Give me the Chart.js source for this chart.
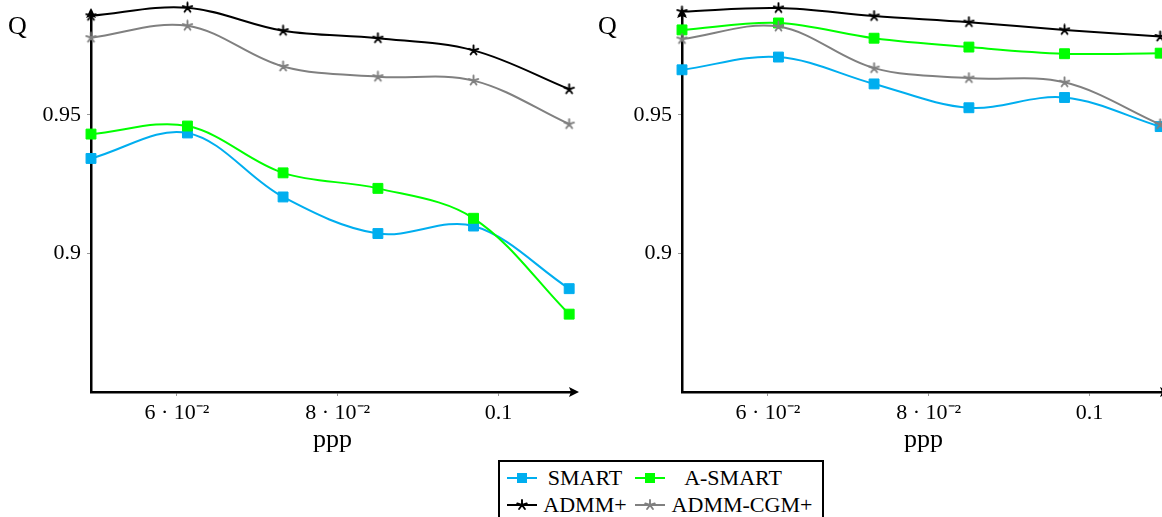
<!DOCTYPE html>
<html><head><meta charset="utf-8">
<script src="https://cdn.jsdelivr.net/npm/chart.js@4"></script>
<style>
html,body{margin:0;padding:0;width:1162px;height:517px;overflow:hidden;background:#fff;font-family:"Liberation Serif",serif;}
body{position:relative;}
#c1{position:absolute;left:0;top:0;}
#c2{position:absolute;left:591px;top:0;}
.q{position:absolute;font-size:26px;line-height:1;color:#000;}
#legend{position:absolute;left:498px;top:460px;width:322px;height:70px;border:2px solid #000;background:#fff;font-size:22px;color:#000;}
#legend svg{position:absolute;}
#legend span{position:absolute;line-height:1;white-space:nowrap;transform:translate(-50%,-50%);}
</style>
</head><body>
<canvas id="c1" width="600" height="462"></canvas>
<canvas id="c2" width="600" height="462"></canvas>
<div class="q" style="left:8px;top:13px;">Q</div>
<div class="q" style="left:598px;top:13px;">Q</div>
<div id="legend">
  <svg style="left:7px;top:9.7px" width="30" height="12"><line x1="0" y1="6" x2="30" y2="6" stroke="#00AEEF" stroke-width="2"/><rect x="10" y="1" width="10" height="10" fill="#00AEEF"/></svg>
  <span style="left:85px;top:16px">SMART</span>
  <svg style="left:135px;top:9.7px" width="30" height="12"><line x1="0" y1="6" x2="30" y2="6" stroke="#00FF00" stroke-width="2"/><rect x="10" y="1" width="10" height="10" fill="#00FF00"/></svg>
  <span style="left:233px;top:16px">A-SMART</span>
  <svg id="lgS1" style="left:7px;top:37px" width="30" height="12"></svg>
  <span style="left:85px;top:43px">ADMM+</span>
  <svg id="lgS2" style="left:135px;top:37px" width="30" height="12"></svg>
  <span style="left:242px;top:43px">ADMM-CGM+</span>
</div>
<script>
// ---- data ----
const ppp = [0.0493, 0.0613, 0.0732, 0.0850, 0.0969, 0.1088];
const xTicks = [0.06, 0.08, 0.1];
const xTickLabels = ['6 · 10⁻²', '8 · 10⁻²', '0.1'];
const yTicks = [0.9, 0.95];
const yTickLabels = ['0.9', '0.95'];
const seriesNames = ['SMART', 'A-SMART', 'ADMM+', 'ADMM-CGM+'];

const smartL  = [0.9343, 0.9435, 0.9204, 0.9072, 0.9099, 0.8873];
const asmartL = [0.9431, 0.9460, 0.9291, 0.9235, 0.9127, 0.8781];
const admmL   = [0.9858, 0.9887, 0.9804, 0.9777, 0.9733, 0.9593];
const cgmL    = [0.9779, 0.9822, 0.9675, 0.9638, 0.9624, 0.9467];

const smartR  = [0.9663, 0.9709, 0.9612, 0.9526, 0.9563, 0.9458];
const asmartR = [0.9807, 0.9832, 0.9777, 0.9745, 0.9721, 0.9723];
const admmR   = [0.9873, 0.9886, 0.9857, 0.9835, 0.9807, 0.9783];
const cgmR    = [0.9774, 0.9819, 0.9669, 0.9633, 0.9618, 0.9466];

// ---- styles ----
const BLUE = '#00AEEF', GREEN = '#00FF00', BLACK = '#000000', GRAY = '#808080';
const FONT = 'Liberation Serif';

function starPath(cx, cy, r) {
  let d = '';
  for (let i = 0; i < 5; i++) {
    const a = -Math.PI / 2 + i * 2 * Math.PI / 5;
    d += `M${cx} ${cy} L${(cx + r * Math.cos(a)).toFixed(2)} ${(cy + r * Math.sin(a)).toFixed(2)} `;
  }
  return d;
}
function makeStar(color) {
  const c = document.createElement('canvas');
  c.width = 13; c.height = 13;
  const g = c.getContext('2d');
  g.strokeStyle = color; g.lineWidth = 1.9; g.lineCap = 'round';
  g.beginPath();
  for (let i = 0; i < 5; i++) {
    const a = -Math.PI / 2 + i * 2 * Math.PI / 5;
    g.moveTo(6.5, 6.5);
    g.lineTo(6.5 + 5 * Math.cos(a), 6.5 + 5 * Math.sin(a));
  }
  g.stroke();
  return c;
}
const starBlack = makeStar(BLACK), starGray = makeStar(GRAY);

['lgS1', 'lgS2'].forEach((id, i) => {
  const col = i === 0 ? BLACK : GRAY;
  document.getElementById(id).innerHTML =
    `<line x1="0" y1="6" x2="30" y2="6" stroke="${col}" stroke-width="2"/>` +
    `<path d="${starPath(15, 6, 5)}" stroke="${col}" stroke-width="1.9" stroke-linecap="round" fill="none"/>`;
});

function ds(label, values, color, style, order) {
  return {
    label,
    data: ppp.map((x, i) => ({ x, y: values[i] })),
    borderColor: color,
    backgroundColor: color,
    borderWidth: 2,
    tension: 0.35,
    pointStyle: style,
    pointRadius: style === 'rect' ? 7 : 6,
    pointBorderWidth: 1,
    pointBorderColor: color,
    pointBackgroundColor: color,
    clip: false,
    order
  };
}

const arrowPlugin = {
  id: 'arrows',
  afterDraw(chart) {
    const { left, right, top, bottom } = chart.chartArea;
    const ctx = chart.ctx;
    ctx.save();
    ctx.fillStyle = '#000';
    ctx.beginPath();
    ctx.moveTo(right + 5, bottom);
    ctx.lineTo(right - 5, bottom - 5);
    ctx.lineTo(right - 3, bottom);
    ctx.lineTo(right - 5, bottom + 5);
    ctx.closePath();
    ctx.fill();
    ctx.beginPath();
    ctx.moveTo(left, top - 5);
    ctx.lineTo(left - 5, top + 5);
    ctx.lineTo(left, top + 3);
    ctx.lineTo(left + 5, top + 5);
    ctx.closePath();
    ctx.fill();
    ctx.restore();
  }
};

function makeChart(id, s, a, d, c) {
  return new Chart(document.getElementById(id), {
    type: 'line',
    data: {
      datasets: [
        ds(seriesNames[0], s, BLUE, 'rect', 4),
        ds(seriesNames[1], a, GREEN, 'rect', 3),
        ds(seriesNames[2], d, BLACK, starBlack, 2),
        ds(seriesNames[3], c, GRAY, starGray, 1)
      ]
    },
    options: {
      responsive: false,
      animation: false,
      devicePixelRatio: 1,
      events: [],
      layout: { padding: { left: 0, right: 26, top: 13, bottom: 0 } },
      plugins: { legend: { display: false }, tooltip: { enabled: false } },
      scales: {
        x: {
          type: 'linear',
          min: 0.0493, max: 0.1094,
          afterBuildTicks: sc => { sc.ticks = xTicks.map(v => ({ value: v })); },
          afterFit: sc => { sc.height = 70; sc.paddingLeft = 0; sc.paddingRight = 0; },
          ticks: {
            autoSkip: false, maxRotation: 0, padding: 4, color: '#000',
            font: { family: FONT, size: 22 },
            callback: v => { const i = xTicks.findIndex(t => Math.abs(t - v) < 1e-9); return i >= 0 ? xTickLabels[i] : ''; }
          },
          grid: { drawOnChartArea: false, drawTicks: true, tickLength: 4, tickColor: '#999', tickWidth: 1 },
          border: { display: true, color: '#000', width: 2.5 },
          title: { display: true, text: 'ppp', color: '#000', font: { family: FONT, size: 26 }, padding: { top: 0, bottom: 6 } }
        },
        y: {
          type: 'linear',
          min: 0.85, max: 0.9868,
          afterBuildTicks: sc => { sc.ticks = yTicks.map(v => ({ value: v })); },
          afterFit: sc => { sc.width = 91; sc.paddingTop = 0; sc.paddingBottom = 0; },
          ticks: {
            autoSkip: false, padding: 6, color: '#000',
            font: { family: FONT, size: 22 },
            callback: v => { const i = yTicks.findIndex(t => Math.abs(t - v) < 1e-9); return i >= 0 ? yTickLabels[i] : ''; }
          },
          grid: { drawOnChartArea: false, drawTicks: true, tickLength: 4, tickColor: '#999', tickWidth: 1 },
          border: { display: true, color: '#000', width: 2.5 }
        }
      }
    },
    plugins: [arrowPlugin]
  });
}

makeChart('c1', smartL, asmartL, admmL, cgmL);
makeChart('c2', smartR, asmartR, admmR, cgmR);
</script>
</body></html>
